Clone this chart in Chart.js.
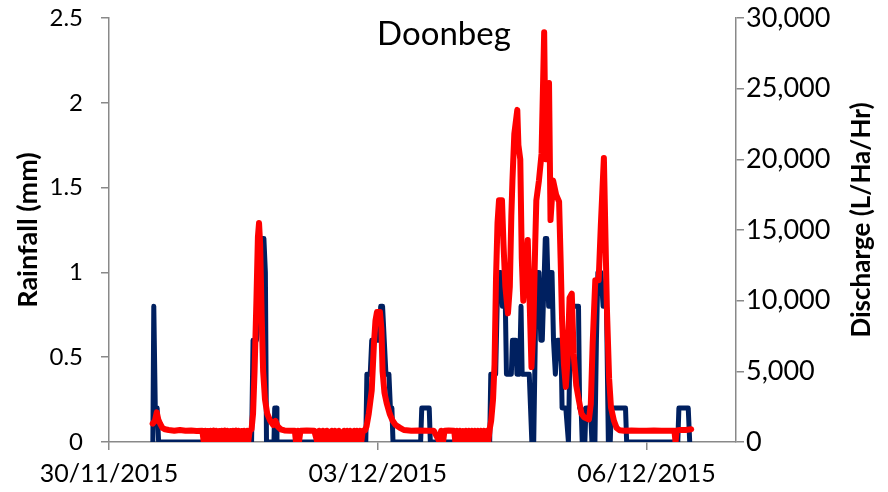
<!DOCTYPE html>
<html>
<head>
<meta charset="utf-8">
<script src="https://cdn.jsdelivr.net/npm/chart.js@4/dist/chart.umd.min.js"></script>
<style>
  html, body { margin: 0; padding: 0; background: #ffffff; }
  #wrap { width: 888px; height: 492px; }
</style>
</head>
<body>
<div id="wrap"><canvas id="c" width="888" height="492"></canvas></div>
<script>
// ---- Data (time in hours since 30/11/2015 00:00) ----
const chartTitle = 'Doonbeg';
const leftAxisTitle = 'Rainfall (mm)';
const rightAxisTitle = 'Discharge (L/Ha/Hr)';
const tickHours = [0, 72, 144];
const tickLabels = ['30/11/2015', '03/12/2015', '06/12/2015'];

const rainHours = [11.75, 12.0, 12.4, 12.9, 13.3,
  38.2, 38.6, 39.5, 40.2, 41.1, 41.5, 41.9, 42.2, 44.2, 44.4, 44.8, 45.0,
  68.8, 69.1, 70.0, 70.4, 72.4, 72.8, 73.3, 74.2, 75.0, 75.4, 75.8, 76.1,
  83.5, 83.8, 85.8, 86.1,
  102.0, 102.3, 103.6, 104.2, 105.0, 105.4, 106.2, 106.5, 107.8, 108.1, 109.0, 109.3, 110.0, 110.4, 110.7,
  112.6, 113.3, 113.8, 114.5, 115.2, 115.7, 116.1, 116.9, 117.3, 117.8, 118.3, 118.7, 119.1, 119.6, 120.2,
  121.1, 121.4, 122.4, 123.1, 123.7, 125.8, 126.1, 126.5, 126.8, 127.5, 127.8, 129.0, 129.4, 130.2, 130.6,
  131.0, 131.8, 132.4, 133.3, 133.8, 134.3, 134.6, 138.4, 138.7, 152.4, 152.7, 155.2, 155.6];
const rainMm = [0, 0.8, 0.2, 0.2, 0,
  0, 0.6, 0.6, 0.8, 1.2, 1.2, 1.0, 0, 0, 0.2, 0.2, 0,
  0, 0.4, 0.4, 0.6, 0.6, 0.8, 0.8, 0.4, 0.4, 0.2, 0.2, 0,
  0, 0.2, 0.2, 0,
  0, 0.4, 0.4, 1.0, 1.0, 0.8, 0.8, 0.4, 0.4, 0.6, 0.6, 0.4, 0.4, 0.8, 0.4,
  0.4, 0, 0, 1.0, 1.0, 0.6, 0.6, 1.2, 1.2, 0.8, 1.0, 1.0, 0.6, 0.4, 0.6,
  0.6, 0.2, 0.2, 0, 0.8, 0.8, 0.2, 0.2, 0, 0, 0.2, 0.2, 0, 0, 0.6,
  1.0, 1.0, 0.8, 0.8, 0, 0, 0.2, 0.2, 0, 0, 0.2, 0.2, 0];

const flowHours = [11.7, 12.3, 12.8, 13.2, 13.7, 14.3, 15.0, 16.0, 17.5, 19.0, 20.5, 22.0, 23.5, 25.0,
  25.4, 25.8, 26.1, 26.5, 26.8, 27.2, 27.6, 28.0, 28.3, 28.7, 29.1, 29.5, 29.8, 30.2, 30.6, 31.0,
  31.3, 31.7, 32.1, 32.5, 32.8, 33.2, 33.6, 34.0, 34.3, 34.7, 35.1, 35.5, 35.8, 36.2, 36.6, 37.0, 37.3, 37.7,
  38.2, 38.6, 39.0, 39.5, 39.9, 40.2, 40.5, 40.9, 41.3, 41.8, 42.4, 43.2, 44.0, 44.6, 45.2, 46.0, 47.0, 48.5,
  49.8, 50.1, 50.6, 50.9, 51.3, 53.0, 55.0, 55.8, 56.3, 56.8, 57.3, 57.8, 58.4, 59.3, 59.7, 60.1, 60.5,
  61.2, 61.6, 62.6, 63.0, 63.4, 63.8, 64.2, 64.6, 65.3, 65.7, 66.0, 66.4, 66.8, 67.2, 67.6, 68.0,
  68.6, 69.0, 69.6, 70.4, 71.0, 71.4, 71.8, 72.6, 73.0, 73.3, 73.8, 74.4, 75.2, 76.0, 76.8, 78.0, 79.0,
  81.0, 83.0, 85.0, 87.0, 88.6, 89.0, 89.5, 89.9, 91.0, 92.5,
  92.8, 93.2, 93.6, 94.0, 94.4, 94.8, 95.2, 95.6, 96.0, 96.4, 96.8, 97.2, 97.6, 98.0, 98.4, 98.8,
  99.2, 99.6, 100.0, 100.4, 100.8, 101.2, 101.6, 102.0,
  102.4, 102.9, 103.3, 103.7, 104.1, 104.5, 105.3, 105.7, 106.2, 106.9, 107.4, 107.8, 108.1, 108.6,
  109.4, 109.7, 110.2, 110.6, 111.0, 111.6, 112.2, 112.7, 113.2, 113.7, 114.2, 114.5, 115.2, 115.9,
  116.6, 117.0, 117.5, 117.9, 118.3, 119.0, 119.8, 120.6, 121.0, 121.4, 121.9, 122.4, 122.9, 123.4,
  124.0, 124.5, 125.2, 125.9, 126.6, 127.3, 128.6, 129.1, 129.6, 130.3, 131.2, 131.8, 132.6, 133.4,
  134.0, 134.5, 135.3, 136.0, 136.8, 138.0, 140.0, 142.0, 144.0, 146.0, 148.0, 150.0, 151.5, 151.8,
  152.1, 153.0, 154.5, 156.0];
const flowQ = [1300, 1500, 2100, 1600, 1300, 1000, 900, 850, 800, 850, 800, 820, 780, 800,
  0, 800, 0, 780, 0, 800, 0, 820, 0, 800, 0, 780, 0, 800, 0, 820,
  0, 800, 0, 780, 0, 800, 0, 820, 0, 800, 0, 780, 0, 800, 0, 800, 0, 800,
  900, 2000, 5000, 10000, 14500, 15500, 14000, 9000, 5000, 3000, 2000, 1500, 1200, 1500, 1100, 900, 820, 800,
  800, 0, 800, 0, 800, 820, 800, 0, 800, 0, 800, 0, 800, 0, 800, 0, 800,
  0, 800, 0, 800, 0, 800, 0, 800, 0, 800, 0, 800, 0, 800, 0, 800,
  820, 1100, 2000, 3650, 7000, 8600, 9200, 9200, 8000, 5000, 3500, 2750, 2000, 1500, 1200, 1000, 850,
  800, 820, 800, 800, 0, 800, 0, 800, 820, 800,
  0, 800, 0, 800, 0, 780, 0, 800, 0, 800, 0, 800, 0, 800, 0, 800,
  0, 800, 0, 800, 0, 800, 0, 900,
  1500, 3000, 5500, 11600, 15500, 17100, 17100, 14000, 11000, 9100, 11000, 16000, 18500, 21800,
  23500, 21000, 20000, 13000, 10000, 12000, 14300, 10000, 5300, 8000, 14000, 17100, 18500, 20400,
  29000, 20000, 23000, 25400, 15700, 18500, 17500, 17000, 13000, 8600, 5500, 3900, 6000, 10200,
  10500, 6250, 4000, 2950, 2000, 1750, 1600, 2700, 7000, 11450, 11450, 15450, 20100, 9550,
  4500, 2450, 1500, 1000, 830, 800, 820, 800, 800, 820, 800, 800, 800, 0,
  820, 850, 850, 900];

// ---- Build ----
const rainPoints = rainHours.map((h, i) => ({ x: h, y: rainMm[i] }));
const flowPoints = flowHours.map((h, i) => ({ x: h, y: flowQ[i] }));

const axisGrey = '#898989';
const FONT = 'Lato';

const overlayText = {
  id: 'overlayText',
  afterDraw(chart) {
    const ctx = chart.ctx;
    ctx.save();
    ctx.fillStyle = '#000000';
    ctx.textAlign = 'center';
    ctx.textBaseline = 'alphabetic';
    ctx.font = '33px ' + FONT;
    ctx.fillText(chartTitle, chart.width / 2, 45);
    ctx.translate(chart.width - 26, 220);
    ctx.rotate(-Math.PI / 2);
    ctx.textBaseline = 'middle';
    ctx.font = 'bold 26px ' + FONT;
    ctx.fillText(rightAxisTitle, 0, 0);
    ctx.restore();
  }
};

const noPadV = (s) => { s.paddingTop = 0; s.paddingBottom = 0; };
const gridOpts = { display: true, drawOnChartArea: false, drawTicks: true, tickLength: 8, color: axisGrey, lineWidth: 1.5 };
const borderOpts = { display: true, color: axisGrey, width: 1.5 };

new Chart(document.getElementById('c'), {
  type: 'line',
  data: {
    datasets: [
      {
        label: 'Rainfall',
        data: rainPoints,
        yAxisID: 'y',
        borderColor: '#002060',
        borderWidth: 5,
        pointRadius: 0,
        tension: 0,
        borderJoinStyle: 'round',
        borderCapStyle: 'round',
        order: 2
      },
      {
        label: 'Discharge',
        data: flowPoints,
        yAxisID: 'y1',
        borderColor: '#FF0000',
        borderWidth: 6,
        pointRadius: 0,
        tension: 0,
        borderJoinStyle: 'round',
        borderCapStyle: 'round',
        order: 1
      }
    ]
  },
  options: {
    responsive: false,
    animation: false,
    events: [],
    layout: { padding: { top: 18, right: 0, bottom: 0, left: 0 } },
    plugins: { legend: { display: false }, tooltip: { enabled: false }, title: { display: false } },
    scales: {
      x: {
        type: 'linear',
        position: 'bottom',
        min: 0,
        max: 168,
        afterBuildTicks: (s) => { s.ticks = tickHours.map(v => ({ value: v })); },
        afterFit: (s) => { s.height = 50; s.paddingLeft = 0; s.paddingRight = 0; },
        ticks: {
          callback: (v, i) => tickLabels[i],
          font: { family: FONT, size: 25 },
          color: '#000000',
          padding: 9,
          maxRotation: 0,
          autoSkip: false
        },
        grid: gridOpts,
        border: borderOpts
      },
      y: {
        position: 'left',
        min: 0,
        max: 2.5,
        afterFit: (s) => { s.width = 109; noPadV(s); },
        ticks: {
          stepSize: 0.5,
          callback: (v) => String(Math.round(v * 10) / 10),
          font: { family: FONT, size: 24 },
          color: '#000000',
          padding: 18
        },
        title: {
          display: true,
          text: leftAxisTitle,
          font: { family: FONT, size: 27, weight: 'bold' },
          color: '#000000',
          padding: { top: 12, bottom: 0 }
        },
        grid: gridOpts,
        border: borderOpts
      },
      y1: {
        position: 'right',
        min: 0,
        max: 30000,
        afterFit: (s) => { s.width = 152; noPadV(s); },
        ticks: { stepSize: 5000, font: { family: FONT, size: 27 }, color: '#000000', padding: 2 },
        grid: gridOpts,
        border: borderOpts
      }
    }
  },
  plugins: [overlayText]
});
</script>
</body>
</html>
